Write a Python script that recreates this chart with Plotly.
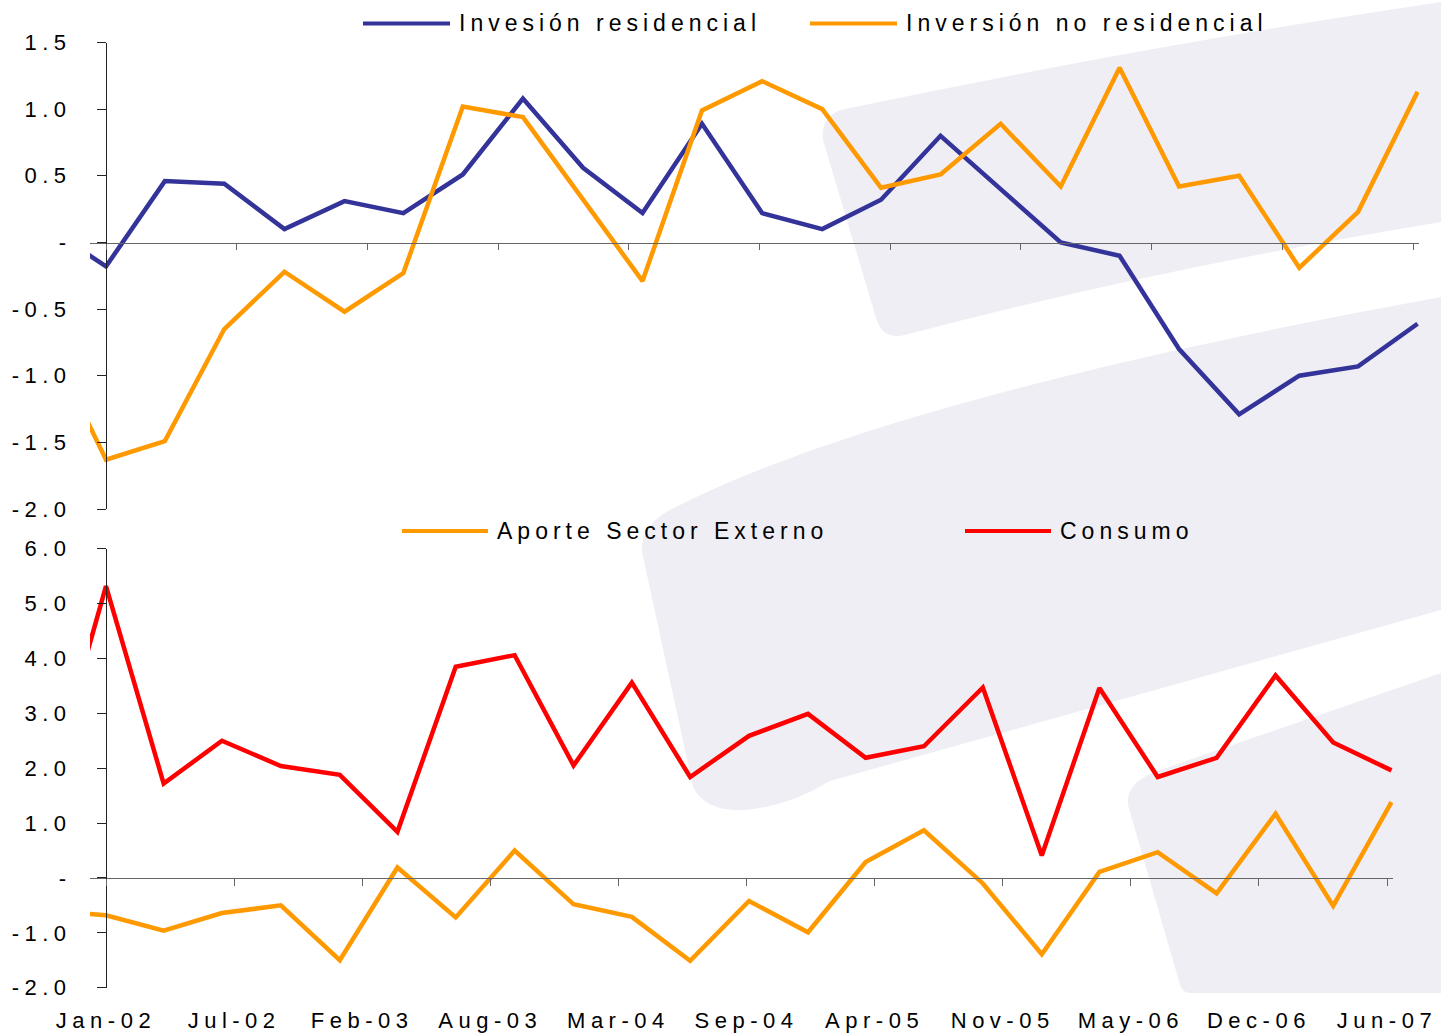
import pandas as pd
import plotly.graph_objects as go

W, H = 1441, 1034

# ---------------- data ----------------
quarters = ["2001-10-01", "2002-01-01", "2002-04-01", "2002-07-01", "2002-10-01",
            "2003-01-01", "2003-04-01", "2003-07-01", "2003-10-01", "2004-01-01",
            "2004-04-01", "2004-07-01", "2004-10-01", "2005-01-01", "2005-04-01",
            "2005-07-01", "2005-10-01", "2006-01-01", "2006-04-01", "2006-07-01",
            "2006-10-01", "2007-01-01", "2007-04-01", "2007-07-01"]

inv_residencial = [0.12, -0.18, 0.46, 0.44, 0.10, 0.31, 0.22, 0.51, 1.08, 0.56,
                   0.22, 0.89, 0.22, 0.10, 0.32, 0.80, 0.40, 0.00, -0.10, -0.80,
                   -1.29, -1.00, -0.93, -0.61]
inv_no_residencial = [-0.70, -1.63, -1.49, -0.65, -0.22, -0.52, -0.23, 1.02, 0.94, 0.32,
                      -0.29, 0.99, 1.21, 1.00, 0.41, 0.51, 0.89, 0.42, 1.31, 0.42,
                      0.50, -0.19, 0.23, 1.13]
aporte_externo = [-0.60, -0.68, -0.96, -0.64, -0.50, -1.50, 0.19, -0.72, 0.50, -0.48,
                  -0.71, -1.51, -0.42, -0.99, 0.29, 0.87, -0.10, -1.39, 0.11, 0.47,
                  -0.28, 1.17, -0.51, 1.38]
consumo = [1.50, 5.32, 1.72, 2.50, 2.04, 1.88, 0.84, 3.85, 4.06, 2.05,
           3.56, 1.84, 2.59, 2.99, 2.19, 2.40, 3.47, 0.41, 3.46, 1.84,
           2.19, 3.69, 2.47, 1.96]

x_tick_labels = ["Jan-02", "Jul-02", "Feb-03", "Aug-03", "Mar-04", "Sep-04",
                 "Apr-05", "Nov-05", "May-06", "Dec-06", "Jun-07"]
top_y_vals = [1.5, 1.0, 0.5, 0.0, -0.5, -1.0, -1.5, -2.0]
top_y_text = ["1.5", "1.0", "0.5", "-", "-0.5", "-1.0", "-1.5", "-2.0"]
bot_y_vals = [6, 5, 4, 3, 2, 1, 0, -1, -2]
bot_y_text = ["6.0", "5.0", "4.0", "3.0", "2.0", "1.0", "-", "-1.0", "-2.0"]

# ---------------- helpers ----------------
base = pd.Timestamp("2002-01-01")
tick_dates = [(base + pd.Timedelta(days=200 * k)).strftime("%Y-%m-%d") for k in range(len(x_tick_labels))]


def fx(x):
    return x / W


def fy(y):
    return 1 - y / H


def drange(left_px, right_px, origin_px, ppd):
    d0 = base + pd.Timedelta(days=(left_px - origin_px) / ppd)
    d1 = base + pd.Timedelta(days=(right_px - origin_px) / ppd)
    return [d0.strftime("%Y-%m-%d %H:%M:%S"), d1.strftime("%Y-%m-%d %H:%M:%S")]


def path(cmds):
    out = []
    for c, pts in cmds:
        s = c
        if pts:
            s += " " + " ".join(f"{fx(x):.5f},{fy(y):.5f}" for x, y in pts)
        out.append(s)
    return " ".join(out)


FONT = "Liberation Sans, Arial, sans-serif"
BLUE = "#333399"
ORANGE = "#FF9900"
RED = "#FF0000"
LAV = "#F0EEF5"
LW = 4.5

top_range = drange(90, 1419, 106, 0.6535)
bot_range = drange(90, 1393, 106, 0.6405)

fig = go.Figure()
fig.add_trace(go.Scatter(x=quarters, y=inv_residencial, name="Invesión residencial",
                         mode="lines", line=dict(color=BLUE, width=LW), xaxis="x", yaxis="y"))
fig.add_trace(go.Scatter(x=quarters, y=inv_no_residencial, name="Inversión no residencial",
                         mode="lines", line=dict(color=ORANGE, width=LW), xaxis="x", yaxis="y"))
fig.add_trace(go.Scatter(x=quarters, y=aporte_externo, name="Aporte Sector Externo",
                         mode="lines", line=dict(color=ORANGE, width=LW), xaxis="x2", yaxis="y2"))
fig.add_trace(go.Scatter(x=quarters, y=consumo, name="Consumo",
                         mode="lines", line=dict(color=RED, width=LW), xaxis="x2", yaxis="y2"))

tickfont = dict(family=FONT, size=22, color="#000000")

fig.update_layout(
    width=W, height=H,
    margin=dict(l=0, r=0, t=0, b=0, autoexpand=False),
    paper_bgcolor="white", plot_bgcolor="rgba(0,0,0,0)",
    showlegend=False,
    xaxis=dict(type="date", domain=[fx(90), fx(1419)], range=top_range, automargin=False,
               anchor="free", position=fy(243), showline=True, linecolor="#666666", linewidth=1,
               ticks="outside", ticklen=6, tickcolor="#666666", tickvals=tick_dates,
               showticklabels=False, showgrid=False, zeroline=False),
    yaxis=dict(domain=[fy(509), fy(42.5)], range=[-2, 1.5], anchor="free", position=fx(106),
               automargin=False,
               showline=True, linecolor="#222222", linewidth=1, ticks="outside", ticklen=9,
               tickcolor="#222222", tickvals=top_y_vals, ticktext=top_y_text, tickfont=tickfont,
               ticklabelstandoff=21, showgrid=False, zeroline=False),
    xaxis2=dict(type="date", domain=[fx(90), fx(1393)], range=bot_range, automargin=False,
                anchor="free", position=fy(877.7), showline=True, linecolor="#666666", linewidth=1,
                ticks="outside", ticklen=7, tickcolor="#666666", tickvals=tick_dates,
                showticklabels=False, showgrid=False, zeroline=False),
    xaxis3=dict(type="date", overlaying="x2", range=bot_range, anchor="y2", side="bottom",
                automargin=False,
                showline=False, ticks="", tickvals=tick_dates, ticktext=x_tick_labels,
                tickfont=tickfont, ticklabelstandoff=17, showgrid=False, zeroline=False),
    yaxis2=dict(domain=[fy(987.7), fy(548.7)], range=[-2, 6], anchor="free", position=fx(106),
                automargin=False,
                showline=True, linecolor="#222222", linewidth=1, ticks="outside", ticklen=9,
                tickcolor="#222222", tickvals=bot_y_vals, ticktext=bot_y_text, tickfont=tickfont,
                ticklabelstandoff=21, showgrid=False, zeroline=False),
)

# invisible helper trace so the label axis is drawn
fig.add_trace(go.Scatter(x=[quarters[1], quarters[-1]], y=[0, 0], mode="lines",
                         line=dict(color="rgba(0,0,0,0)", width=0), hoverinfo="skip",
                         showlegend=False, xaxis="x3", yaxis="y2"))

# ---------------- watermark background ----------------
shapes = []
wm1 = path([("M", [(823, 140)]), ("Q", [(820, 112), (850, 108)]),
            ("Q", [(1150, 45), (1441, 2)]), ("L", [(1441, 222)]),
            ("Q", [(1150, 270), (905, 335)]), ("Q", [(882, 340), (876, 318)]), ("Z", [])])
wm2 = path([("M", [(1441, 297)]), ("C", [(1150, 350), (850, 420), (680, 505)]),
            ("Q", [(640, 522), (642, 552)]), ("L", [(693, 787)]),
            ("Q", [(705, 812), (745, 810)]), ("Q", [(790, 806), (830, 781)]),
            ("L", [(1441, 610)]), ("Z", [])])
wm3 = path([("M", [(1441, 673)]), ("L", [(1160, 770)]), ("Q", [(1125, 782), (1128, 805)]),
            ("L", [(1180, 985)]), ("Q", [(1183, 993), (1190, 993)]), ("L", [(1441, 993)]), ("Z", [])])
for p in (wm1, wm2, wm3):
    shapes.append(dict(type="path", path=p, xref="paper", yref="paper", layer="below",
                       fillcolor=LAV, line=dict(width=0)))

# ---------------- legends (line samples + labels) ----------------
legend_items = [
    (363, 450, 23.5, BLUE, "Invesión residencial"),
    (810, 897, 23.5, ORANGE, "Inversión no residencial"),
    (402, 488, 531, ORANGE, "Aporte Sector Externo"),
    (965, 1051, 531, RED, "Consumo"),
]
annotations = []
for x0, x1, yy, col, txt in legend_items:
    shapes.append(dict(type="line", xref="paper", yref="paper", x0=fx(x0), x1=fx(x1),
                       y0=fy(yy), y1=fy(yy), line=dict(color=col, width=4)))
    annotations.append(dict(text=txt, xref="paper", yref="paper", x=fx(x1 + 7), y=fy(yy),
                            xanchor="left", yanchor="middle", align="left", showarrow=False,
                            font=dict(family=FONT, size=23, color="#000000")))

fig.update_layout(shapes=shapes, annotations=annotations)

post = """
document.body.style.margin = '0';
document.body.style.overflow = 'hidden';
var gd = document.getElementById('{plot_id}');
function ls(){
  gd.querySelectorAll('.xaxislayer-above text, .yaxislayer-above text, g[class$="tick"] text').forEach(function(t){ t.style.letterSpacing = '5.5px'; });
  gd.querySelectorAll('.annotation-text').forEach(function(t){ t.style.letterSpacing = '5px'; });
}
ls();
if (gd.on) { gd.on('plotly_afterplot', ls); }
"""

fig.write_html("out.html", post_script=post, config={"displayModeBar": False})
